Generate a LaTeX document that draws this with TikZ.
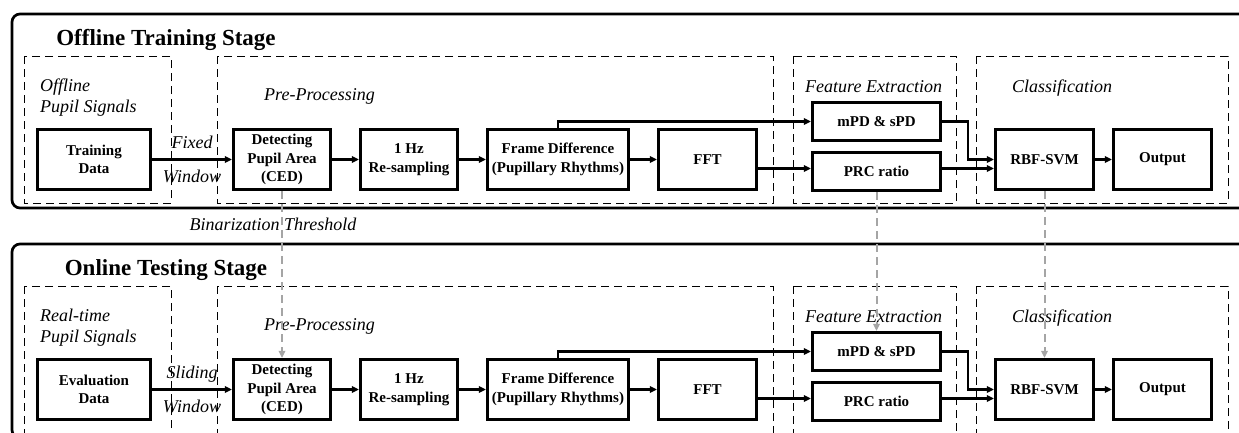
\documentclass[tikz,border=0pt]{standalone}
\usepackage{fontspec}
\setmainfont{Liberation Serif}
\usetikzlibrary{arrows.meta}

\definecolor{linkgray}{RGB}{165,165,165}

\tikzset{
  blk/.style={draw, line width=2.7pt, inner sep=0pt, align=center,
    font=\fontsize{15}{18.5}\selectfont\bfseries, minimum height=60.5pt},
  grp/.style={draw, line width=0.9pt, dash pattern=on 8pt off 5pt},
  lbl/.style={font=\fontsize{18}{21}\selectfont\itshape, inner sep=0pt, anchor=base west},
  arr/.style={line width=2.2pt, -{Triangle[length=7pt,width=6.5pt]}},
  link/.style={linkgray, line width=2pt, dash pattern=on 8pt off 5pt,
    -{Triangle[length=7pt,width=6.5pt]}},
}

\begin{document}
\begin{tikzpicture}[x=1pt,y=-1pt]
\clip (0,0) rectangle (1239,432);
\foreach \s/\dy/\stage/\sig/\data/\win in
  {a/0/Offline Training Stage/Offline/Training/Fixed,
   b/230/Online Testing Stage/Real-time/Evaluation/Sliding}
{
\begin{scope}[shift={(0,\dy)}]
\draw[line width=2.7pt, rounded corners=8pt] (12,14) rectangle (1260,208);
\node[font=\fontsize{23}{26}\selectfont\bfseries, inner sep=0pt, anchor=base] (title\s) at (166,45) {\stage};
% dashed groups
\draw[grp] (24,56) rectangle (171,203);
\draw[grp] (217,56) rectangle (773,203);
\draw[grp] (793,56) rectangle (956,203);
\draw[grp] (976,56) rectangle (1228,203);
\node[lbl] (sig\s) at (40,91) {\sig};
\node[lbl] (pupil\s) at (40,112) {Pupil Signals};
\node[lbl] (pre\s) at (264,100) {Pre-Processing};
\node[lbl] (feat\s) at (805,92) {Feature Extraction};
\node[lbl] (cls\s) at (1012,92) {Classification};
% blocks
\node[blk, minimum width=113.5pt] (train\s) at (94,159.5) {\data\\Data};
\node[blk, minimum width=97.5pt] (detect\s) at (282,159.5) {Detecting\\Pupil Area\\(CED)};
\node[blk, minimum width=97.5pt] (resamp\s) at (409,159.5) {1 Hz\\Re-sampling};
\node[blk, minimum width=141.5pt] (frame\s) at (558,159.5) {Frame Difference\\(Pupillary Rhythms)};
\node[blk, minimum width=98.5pt] (fft\s) at (707.5,159.5) {FFT};
\node[blk, minimum width=128.5pt, minimum height=38.5pt] (mpd\s) at (876.5,121.5) {mPD \& sPD};
\node[blk, minimum width=128.5pt, minimum height=38.5pt] (prc\s) at (876.5,171.5) {PRC ratio};
\node[blk, minimum width=98.5pt] (svm\s) at (1044.5,159.5) {RBF-SVM};
\node[blk, minimum width=98.5pt] (out\s) at (1162.5,159.5) {Output};
\node[lbl, anchor=base] (win\s) at (192,148) {\win};
\node[lbl, anchor=base] (window\s) at (192,182) {Window};
% arrows
\draw[arr] (train\s) -- (detect\s);
\draw[arr] (detect\s) -- (resamp\s);
\draw[arr] (resamp\s) -- (frame\s);
\draw[arr] (frame\s) -- (fft\s);
\draw[arr] (frame\s.north) |- (mpd\s.west);
\coordinate (prcin\s) at ([yshift=3pt]prc\s.west);
\draw[arr] (fft\s.east |- prcin\s) -- (prcin\s);
\draw[arr] (mpd\s.east) -- ++(26,0) |- (svm\s.west);
\draw[arr] (prcin\s -| prc\s.east) -- (prcin\s -| svm\s.west);
\draw[arr] (svm\s) -- (out\s);
\end{scope}
}
% links from training to testing
\node[lbl, anchor=base] (thr) at (273,230) {Binarization Threshold};
\draw[link] (detecta.south) -- (detectb.north);
\draw[link] (prca.south) -- (mpdb.north);
\draw[link] (svma.south) -- (svmb.north);
\end{tikzpicture}
\end{document}
